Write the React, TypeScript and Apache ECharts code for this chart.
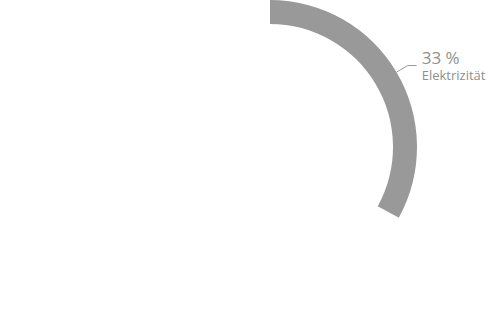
import React, { useEffect, useRef } from "react";
import * as echarts from "echarts";

const categories = ["Elektrizität", "Rest"];
const values = [33, 67];
const labels = ["33 %", ""];

export default function App() {
  const ref = useRef<HTMLDivElement>(null);
  useEffect(() => {
    document.body.style.margin = "0";
    const chart = echarts.init(ref.current!, null, { renderer: "svg" });
    chart.setOption({
      animation: false,
      series: [
        {
          type: "pie",
          center: [270, 147],
          radius: [123, 147],
          startAngle: 90,
          clockwise: true,
          silent: true,
          data: categories.map((name, i) => ({
            name,
            value: values[i],
            itemStyle: { color: i === 0 ? "#999999" : "rgba(0,0,0,0)" },
            label: { show: i === 0 },
            labelLine: { show: i === 0 },
          })),
          label: {
            position: "outside",
            overflow: "none",
            edgeDistance: 0,
            fontFamily: "Open Sans",
            color: "#8f8f8f",
            formatter: (p: any) => `{a|${labels[p.dataIndex]}}\n{b|${p.name}}`,
            rich: {
              a: { fontSize: 17, lineHeight: 19, color: "#8f8f8f", fontFamily: "Open Sans" },
              b: { fontSize: 13, lineHeight: 16, color: "#8f8f8f", fontFamily: "Open Sans" },
            },
            distanceToLabelLine: 5,
          },
          labelLine: {
            length: 13,
            length2: 9,
            lineStyle: { color: "#999999", width: 1 },
          },
        },
      ],
    });
    return () => chart.dispose();
  }, []);
  return <div ref={ref} style={{ width: 490, height: 310 }} />;
}
